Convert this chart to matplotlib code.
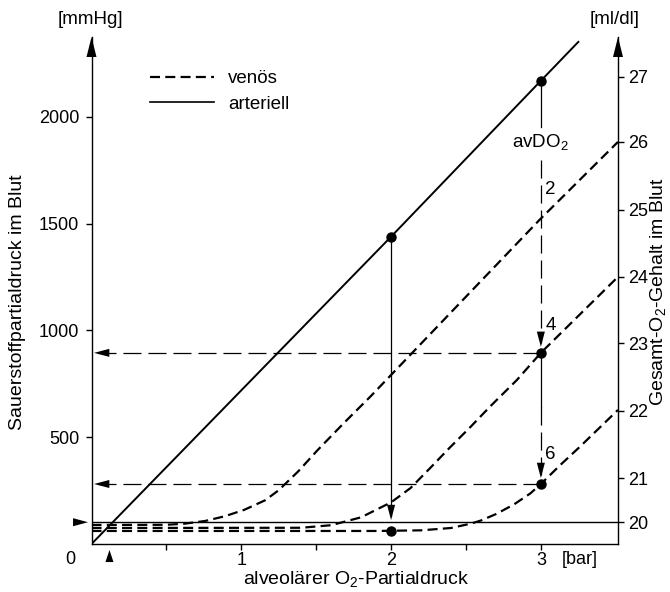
import matplotlib
matplotlib.use("Agg")
import matplotlib.pyplot as plt
from matplotlib.lines import Line2D

plt.rcParams['font.family'] = ['Liberation Sans', 'DejaVu Sans']
plt.rcParams['lines.scale_dashes'] = False

# alveolar O2 pressure [bar] -> blood O2 pressure [mmHg]
bar_ticks = [0.5, 1, 1.5, 2, 2.5, 3]
bar_labels = ['', '1', '', '2', '', '3']
mmhg_ticks = [500, 1000, 1500, 2000]
content_labels = [20, 21, 22, 23, 24, 25, 26, 27]          # ml/dl
content_pos_mmhg = [103, 309, 623, 941, 1251, 1564, 1883, 2187]

arterial_bar = [0, 2, 3, 3.25]
arterial_mmhg = [0, 1439, 2169, 2351]

# venous curves for avDO2 = 2, 4, 6 ml/dl
ven2_bar = [0, 0.5, 0.62, 0.76, 0.89, 1.02, 1.16, 1.25, 1.38, 1.51, 1.69, 1.86, 2.99, 3.515]
ven2_mmhg = [89, 90, 95, 108, 130, 160, 205, 252, 340, 440, 570, 689, 1517, 1883]
ven4_bar = [0, 1.4, 1.6, 1.8, 2.0, 2.13, 2.26, 2.39, 2.53, 2.66, 2.84, 3.0, 3.515]
ven4_mmhg = [75, 76, 88, 125, 195, 262, 355, 450, 548, 643, 768, 895, 1251]
ven6_bar = [0, 1.9, 2.2, 2.4, 2.53, 2.6, 2.7, 2.82, 2.93, 3.0, 3.13, 3.26, 3.515]
ven6_mmhg = [61, 61, 64, 75, 95, 110, 140, 185, 237, 281, 370, 455, 628]

dot_bar = [2, 3, 2, 3, 3]
dot_mmhg = [1439, 2169, 60, 895, 281]

normal_mmhg = 102      # solid horizontal line, ~20 ml/dl
normal_bar = 0.12      # marker on the x axis
xmax, ymax = 3.515, 2374

VEN = (7.2, 3.8)
LONG = (13, 5)


def head(x, y, dx, dy, length, width, gap=0.0):
    # filled arrow head with tip at (x, y), pointing in (dx, dy)
    off = length + gap
    ax.annotate('', xy=(x, y), xytext=(-dx * off, -dy * off), textcoords='offset points',
                arrowprops=dict(arrowstyle=f'-|>,head_length={length},head_width={width}',
                                mutation_scale=1, color='k', lw=0,
                                shrinkA=0, shrinkB=gap),
                annotation_clip=False)


fig = plt.figure(figsize=(6.7, 5.92), dpi=100)
ax = fig.add_axes([91.5 / 670, 48 / 592, 526.5 / 670, 507 / 592])
ax.set_xlim(0, xmax)
ax.set_ylim(0, ymax)

ax.plot(arterial_bar, arterial_mmhg, color='k', lw=1.4)
for xs, ys in [(ven2_bar, ven2_mmhg), (ven4_bar, ven4_mmhg), (ven6_bar, ven6_mmhg)]:
    ax.plot(xs, ys, color='k', lw=1.6, dashes=VEN)
ax.axhline(normal_mmhg, color='k', lw=1.0)

# horizontal read-off arrows
for y in [895, 281]:
    ax.plot([3, 0.02], [y, y], color='k', lw=0.9, dashes=LONG)
    head(0.017, y, -1, 0, 11, 2.9)

# vertical at 2 bar
ax.plot([2, 2], [1439, 130], color='k', lw=0.9)
head(2, 112, 0, -1, 11, 2.9)

# vertical at 3 bar
ax.plot([3, 3], [2169, 1953], color='k', lw=0.9)
ax.plot([3, 3], [1800, 940], color='k', lw=0.9, dashes=LONG)
head(3, 923, 0, -1, 11, 2.9)
ax.plot([3, 3], [895, 640], color='k', lw=0.9)
ax.plot([3, 3], [640, 325], color='k', lw=0.9, dashes=LONG)
head(3, 309, 0, -1, 11, 2.9)

ax.plot(dot_bar, dot_mmhg, 'o', color='k', ms=6.5)

ax.text(3, 1880, 'avDO$_\\mathregular{2}$', ha='center', va='center', fontsize=13.5)
for lab, y in [('2', 1658), ('4', 1021), ('6', 417)]:
    ax.text(3.03, y, lab, ha='left', va='center', fontsize=13.5)

# axes styling
ax.spines['top'].set_visible(False)
ax.spines['right'].set_visible(False)
for s in ['left', 'bottom']:
    ax.spines[s].set_linewidth(1.0)
ax.set_xticks(bar_ticks)
ax.set_xticklabels(bar_labels)
ax.set_yticks(mmhg_ticks)
ax.tick_params(axis='both', direction='out', length=4.3, width=1.0, labelsize=13)
ax.tick_params(axis='y', pad=4.5)
ax.tick_params(axis='x', pad=1.8)

ax2 = ax.twinx()
ax2.set_ylim(0, ymax)
ax2.spines['top'].set_visible(False)
ax2.spines['left'].set_visible(False)
ax2.spines['bottom'].set_visible(False)
ax2.spines['right'].set_linewidth(1.0)
ax2.set_yticks(content_pos_mmhg)
ax2.set_yticklabels([str(v) for v in content_labels])
ax2.tick_params(axis='y', direction='out', length=4.3, width=1.0, labelsize=13, pad=3)

# axis arrow heads
head(0, ymax, 0, 1, 14.4, 3.6)
head(xmax, ymax, 0, 1, 14.4, 3.6)
head(0, normal_mmhg, 1, 0, 10.8, 2.9, gap=2.5)
head(normal_bar, 0, 0, 1, 8.7, 2.9, gap=4.3)

ax.legend([Line2D([], [], color='k', lw=1.6, dashes=VEN),
           Line2D([], [], color='k', lw=1.2)],
          ['venös', 'arteriell'], loc='upper left',
          bbox_to_anchor=(0.111, 0.935), frameon=False, fontsize=13.5,
          borderpad=0, borderaxespad=0, handlelength=3.4, handletextpad=0.75,
          labelspacing=0.45)


def ftext(x, y, s, size=14, **kw):
    fig.text(x / 670, 1 - y / 592, s, ha='center', va='center', fontsize=size, **kw)


ftext(90, 20, '[mmHg]', 13.5)
ftext(615, 20, '[ml/dl]', 13.5)
ftext(18, 302, 'Sauerstoffpartialdruck im Blut', rotation=90)
ftext(659, 292, 'Gesamt-O$_\\mathregular{2}$-Gehalt im Blut', rotation=90)
ftext(356, 580, 'alveolärer O$_\\mathregular{2}$-Partialdruck')
ftext(70, 559, '0', 13)
ftext(580, 559, '[bar]', 13)

fig.savefig('out.png', dpi=100)
